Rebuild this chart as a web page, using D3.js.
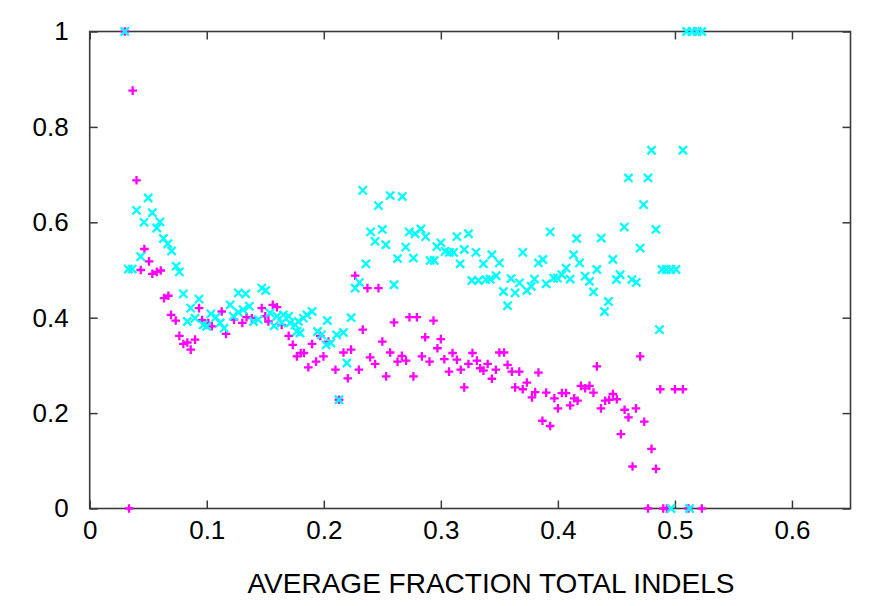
<!DOCTYPE html>
<html>
<head>
<meta charset="utf-8">
<script src="https://cdn.jsdelivr.net/npm/d3@7"></script>
<style>
  html, body { margin: 0; padding: 0; background: #fff; }
  svg text { font-family: "Liberation Sans", Arial, sans-serif; fill: #000; }
</style>
</head>
<body>
<svg id="chart" width="873" height="606"></svg>
<script>
// Series 1: magenta "+" points
const plusX = [0.030,0.0336,0.0367,0.040,0.0436,0.0467,0.0507,0.0535,0.0573,0.0607,0.0635,0.0672,0.0695,0.0735,0.0766,0.080,0.0834,0.0863,0.090,0.0934,0.096,0.1014,0.1043,0.1128,0.1165,0.1233,0.1304,0.134,0.1385,0.147,0.150,0.1527,0.1564,0.160,0.164,0.170,0.1735,0.177,0.1803,0.183,0.1868,0.190,0.1934,0.197,0.1997,0.204,0.210,0.213,0.2168,0.2205,0.2233,0.2268,0.230,0.2333,0.2373,0.2396,0.2438,0.2467,0.250,0.2533,0.2567,0.260,0.263,0.2667,0.2703,0.2732,0.2766,0.2795,0.2838,0.2866,0.2903,0.2937,0.2971,0.300,0.303,0.307,0.310,0.3137,0.317,0.320,0.3236,0.327,0.3308,0.3336,0.3364,0.340,0.3436,0.347,0.350,0.354,0.357,0.3607,0.3635,0.367,0.370,0.3735,0.3778,0.3806,0.3834,0.3868,0.390,0.3934,0.397,0.400,0.4034,0.407,0.4105,0.414,0.4168,0.4197,0.4233,0.427,0.4304,0.4333,0.4368,0.4404,0.4438,0.447,0.4504,0.4538,0.457,0.4603,0.4638,0.4667,0.4703,0.4738,0.477,0.480,0.4838,0.4875,0.490,0.493,0.500,0.5068,0.5116,0.5175,0.523];
const plusY = [1.000,0.000,0.876,0.688,0.500,0.544,0.518,0.492,0.496,0.499,0.441,0.446,0.406,0.394,0.362,0.345,0.348,0.333,0.354,0.420,0.395,0.389,0.382,0.413,0.366,0.396,0.389,0.401,0.399,0.420,0.403,0.392,0.427,0.422,0.385,0.362,0.343,0.319,0.326,0.326,0.296,0.345,0.308,0.362,0.319,0.350,0.291,0.228,0.327,0.273,0.333,0.488,0.291,0.375,0.462,0.317,0.303,0.462,0.350,0.277,0.327,0.390,0.308,0.320,0.310,0.401,0.277,0.401,0.319,0.359,0.308,0.394,0.336,0.355,0.313,0.287,0.326,0.312,0.291,0.254,0.303,0.326,0.310,0.294,0.289,0.303,0.272,0.291,0.327,0.327,0.301,0.287,0.254,0.287,0.250,0.264,0.233,0.244,0.285,0.184,0.243,0.173,0.231,0.210,0.242,0.242,0.216,0.231,0.226,0.257,0.252,0.257,0.243,0.298,0.210,0.226,0.228,0.240,0.229,0.156,0.207,0.191,0.088,0.210,0.319,0.182,0.000,0.125,0.083,0.250,0.000,0.000,0.250,0.250,0.000,1.000,0.000];

// Series 2: cyan "x" points
const crossX = [0.030,0.033,0.0364,0.040,0.0436,0.0464,0.050,0.0535,0.0573,0.060,0.063,0.0667,0.070,0.0738,0.0766,0.080,0.0834,0.0863,0.090,0.0934,0.097,0.100,0.1035,0.1078,0.1114,0.1148,0.120,0.1227,0.127,0.127,0.131,0.1333,0.1364,0.140,0.144,0.147,0.1504,0.154,0.1575,0.160,0.164,0.1655,0.170,0.1712,0.1755,0.177,0.1783,0.1797,0.1826,0.1855,0.190,0.1947,0.198,0.202,0.203,0.206,0.211,0.213,0.2168,0.2197,0.2233,0.2268,0.2304,0.2333,0.236,0.240,0.2438,0.2467,0.250,0.253,0.2567,0.260,0.263,0.267,0.270,0.273,0.2766,0.278,0.283,0.287,0.2908,0.2943,0.2966,0.300,0.3037,0.3073,0.311,0.3137,0.3165,0.320,0.3236,0.3265,0.330,0.3321,0.3364,0.3385,0.3421,0.3436,0.3473,0.350,0.3535,0.357,0.360,0.3635,0.3672,0.370,0.3735,0.3772,0.380,0.3834,0.3872,0.390,0.3934,0.3963,0.3997,0.4034,0.407,0.4105,0.4134,0.416,0.4185,0.4233,0.427,0.4304,0.4333,0.437,0.4398,0.4432,0.447,0.450,0.4532,0.4567,0.4603,0.4632,0.467,0.4703,0.4732,0.477,0.480,0.4838,0.4868,0.4889,0.4926,0.4966,0.4966,0.5009,0.5068,0.510,0.5125,0.5145,0.519,0.523];
const crossY = [1.000,0.502,0.502,0.625,0.528,0.600,0.651,0.620,0.588,0.601,0.566,0.555,0.540,0.508,0.496,0.450,0.392,0.420,0.399,0.439,0.385,0.382,0.408,0.401,0.389,0.378,0.427,0.403,0.411,0.452,0.417,0.450,0.424,0.392,0.396,0.462,0.457,0.410,0.383,0.403,0.389,0.406,0.403,0.389,0.385,0.371,0.392,0.368,0.399,0.406,0.413,0.371,0.364,0.343,0.394,0.347,0.364,0.228,0.369,0.305,0.400,0.462,0.474,0.667,0.513,0.580,0.560,0.635,0.585,0.553,0.656,0.469,0.524,0.654,0.548,0.580,0.525,0.576,0.586,0.570,0.520,0.520,0.549,0.557,0.539,0.537,0.537,0.570,0.513,0.543,0.576,0.478,0.537,0.478,0.513,0.480,0.481,0.532,0.488,0.515,0.455,0.425,0.482,0.452,0.473,0.537,0.457,0.466,0.481,0.515,0.522,0.471,0.580,0.483,0.483,0.490,0.504,0.481,0.532,0.566,0.515,0.487,0.476,0.454,0.501,0.567,0.413,0.434,0.522,0.480,0.490,0.590,0.693,0.480,0.474,0.546,0.637,0.693,0.751,0.585,0.375,0.501,0.501,0.501,0.000,0.501,0.751,1.000,0.000,1.000,1.000,1.000];

// Axis ticks and title
const xTicks = [0, 0.1, 0.2, 0.3, 0.4, 0.5, 0.6];
const yTicks = [0, 0.2, 0.4, 0.6, 0.8, 1];
const xTitle = "AVERAGE FRACTION TOTAL INDELS";

const svg = d3.select("#chart");
const plotLeft = 89.7, plotRight = 850.5, plotTop = 31.5, plotBottom = 508.5;

const x = d3.scaleLinear().domain([0, 0.65]).range([plotLeft, plotRight]);
const y = d3.scaleLinear().domain([0, 1]).range([plotBottom, plotTop]);

const frameColor = "#3a3a3a";
const tickLen = 8;
const labelFont = 26;

// Inward ticks on all four sides
const axisBottom = d3.axisBottom(x).tickValues(xTicks).tickSizeInner(-tickLen).tickSizeOuter(0)
  .tickPadding(12).tickFormat(d3.format("~g"));
const axisTop = d3.axisTop(x).tickValues(xTicks).tickSizeInner(-tickLen).tickSizeOuter(0).tickFormat("");
const axisLeft = d3.axisLeft(y).tickValues(yTicks).tickSizeInner(-tickLen).tickSizeOuter(0)
  .tickPadding(21).tickFormat(d3.format("~g"));
const axisRight = d3.axisRight(y).tickValues(yTicks).tickSizeInner(-tickLen).tickSizeOuter(0).tickFormat("");

function styleAxis(g) {
  g.select(".domain").remove();
  g.selectAll(".tick line").attr("stroke", frameColor).attr("stroke-width", 1.5);
  g.selectAll(".tick text").attr("font-size", labelFont).attr("font-family", "Liberation Sans, Arial, sans-serif").attr("fill", "#000");
}

svg.append("g").attr("transform", `translate(0,${plotBottom})`).call(axisBottom).call(styleAxis);
svg.append("g").attr("transform", `translate(0,${plotTop})`).call(axisTop).call(styleAxis);
svg.append("g").attr("transform", `translate(${plotLeft},0)`).call(axisLeft).call(styleAxis);
svg.append("g").attr("transform", `translate(${plotRight},0)`).call(axisRight).call(styleAxis);

// Plot frame
svg.append("rect")
  .attr("x", plotLeft).attr("y", plotTop)
  .attr("width", plotRight - plotLeft).attr("height", plotBottom - plotTop)
  .attr("fill", "none").attr("stroke", frameColor).attr("stroke-width", 1.6);

// Point markers
const plusPath = "M-4.3,0H4.3M0,-4.3V4.3";
const crossPath = "M-4.1,-4.1L4.1,4.1M-4.1,4.1L4.1,-4.1";

const plusData = plusX.map((v, i) => [v, plusY[i]]).filter(d => d[1] !== undefined);
const crossData = crossX.map((v, i) => [v, crossY[i]]).filter(d => d[1] !== undefined);

svg.append("g").selectAll("path").data(plusData).join("path")
  .attr("d", plusPath)
  .attr("transform", d => `translate(${x(d[0])},${y(d[1])})`)
  .attr("stroke", "#ff00ff").attr("stroke-width", 2.3).attr("fill", "none");

svg.append("g").selectAll("path").data(crossData).join("path")
  .attr("d", crossPath)
  .attr("transform", d => `translate(${x(d[0])},${y(d[1])})`)
  .attr("stroke", "#00ffff").attr("stroke-width", 2.3).attr("fill", "none");

// X axis title
svg.append("text")
  .attr("x", 491)
  .attr("y", 593)
  .attr("text-anchor", "middle")
  .attr("font-size", 28)
  .text(xTitle);
</script>
</body>
</html>
